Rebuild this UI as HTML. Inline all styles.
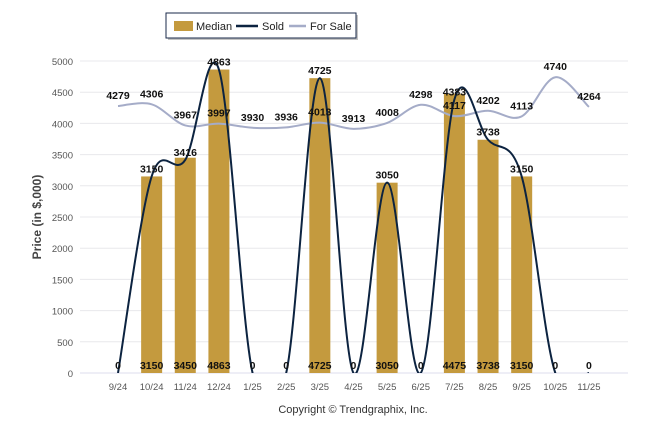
<!DOCTYPE html>
<html><head><meta charset="utf-8"><style>
body{margin:0;background:#fff;}
svg{display:block;font-family:"Liberation Sans",sans-serif;}
</style></head><body>
<svg id="c" width="646" height="434">
<defs><clipPath id="plot"><rect x="80" y="40" width="560" height="333"/></clipPath></defs>
<g>
<rect x="168" y="15" width="190" height="25" fill="#888" opacity="0.5"/>
<rect x="166" y="13" width="190" height="25" fill="#fff" stroke="#1a2a4a" stroke-width="1"/>
<rect x="174" y="21" width="19" height="10" fill="#c49a3e"/>
<text x="196" y="30" font-size="11" fill="#222">Median</text>
<line x1="236" y1="26" x2="258" y2="26" stroke="#0c2340" stroke-width="2.5"/>
<text x="262" y="30" font-size="11" fill="#222">Sold</text>
<line x1="289" y1="26" x2="306" y2="26" stroke="#a5acc8" stroke-width="2.5"/>
<text x="310" y="30" font-size="11" fill="#222">For Sale</text>
</g>
<text transform="translate(41,217) rotate(-90)" text-anchor="middle" font-size="12" font-weight="bold" fill="#444">Price (in $,000)</text>
<text x="353" y="413" text-anchor="middle" font-size="11" fill="#333">Copyright © Trendgraphix, Inc.</text>
<g id="grid"></g><g id="bars"></g><g id="lines" clip-path="url(#plot)"></g><g id="labels"></g>
</svg>
<script>
const categories=["9/24","10/24","11/24","12/24","1/25","2/25","3/25","4/25","5/25","6/25","7/25","8/25","9/25","10/25","11/25"];
const median=[0,3150,3450,4863,0,0,4725,0,3050,0,4475,3738,3150,0,0];
const sold=[0,3150,3416,4863,0,0,4725,0,3050,0,4383,3738,3150,0,0];
const forSale=[4279,4306,3967,3997,3930,3936,4013,3913,4008,4298,4117,4202,4113,4740,4264];
const yTicks=[0,500,1000,1500,2000,2500,3000,3500,4000,4500,5000];
const NS="http://www.w3.org/2000/svg";
const x0=118,dx=33.64,yb=373,ys=312/5000;
const X=i=>x0+i*dx, Y=v=>yb-v*ys;
function el(t,a,p){const e=document.createElementNS(NS,t);for(const k in a)e.setAttribute(k,a[k]);document.getElementById(p).appendChild(e);return e;}
yTicks.forEach(v=>{
 const l=el('line',{x1:80,x2:628,y1:Y(v),y2:Y(v),stroke:'#e8e8ec','stroke-width':1},'grid');
 
 
 const t=el('text',{x:73,y:Y(v)+4,'text-anchor':'end','font-size':'9.5',fill:'#555'},'grid');t.textContent=v;
 
 
});
el('line',{x1:80,x2:628,y1:yb,y2:yb,stroke:'#dde','stroke-width':1},'grid');
categories.forEach((c,i)=>{
 const t=el('text',{x:X(i),y:390,'text-anchor':'middle','font-size':'9.5',fill:'#555'},'grid');t.textContent=c;
 
 
 if(median[i]>0){const b=el('rect',{x:X(i)-10.5,y:Y(median[i]),width:21,height:median[i]*ys,fill:'#c49a3e'},'bars');
 
 }
});
function spline(arr){
 const p=arr.map((v,i)=>[X(i),Y(v)]);let d=`M${p[0][0]},${p[0][1]}`;
 for(let i=0;i<p.length-1;i++){const a=p[i-1]||p[i],b=p[i],c=p[i+1],e=p[i+2]||c;
  d+=` C${b[0]+(c[0]-a[0])/6},${b[1]+(c[1]-a[1])/6} ${c[0]-(e[0]-b[0])/6},${c[1]-(e[1]-b[1])/6} ${c[0]},${c[1]}`;}
 return d;}
const fs=el('path',{d:spline(forSale),fill:'none',stroke:'#a5acc8','stroke-width':2},'lines');


const sl=el('path',{d:spline(sold),fill:'none',stroke:'#0c2340','stroke-width':2},'lines');


function lab(x,y,s,n){const t=el('text',{x:x,y:y,'text-anchor':'middle','font-size':'10.5','font-weight':'bold',fill:'#111'},'labels');t.textContent=s;
 
 }
categories.forEach((c,i)=>{
 lab(X(i),369,median[i],'median-value');
 if(sold[i]>0)lab(X(i),Y(sold[i])-4,sold[i],'sold-value');
 lab(X(i),Y(forSale[i])-7,forSale[i],'for-sale-value');
});
</script>
</body></html>
